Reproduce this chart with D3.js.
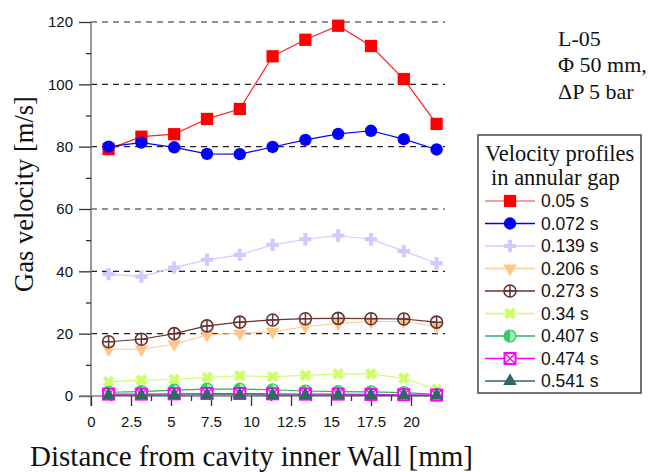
<!DOCTYPE html>
<html><head><meta charset="utf-8">
<script src="https://cdn.jsdelivr.net/npm/d3@7"></script>
<style>body{margin:0;background:#fff}svg{display:block}</style>
</head><body>
<script>
const distances = [1.1, 3.15, 5.2, 7.25, 9.3, 11.35, 13.4, 15.45, 17.5, 19.55, 21.6];
const seriesNames = ["0.05 s","0.072 s","0.139 s","0.206 s","0.273 s","0.34 s","0.407 s","0.474 s","0.541 s"];
const v005  = [79.2, 83.2, 84.0, 88.9, 92.1, 109.0, 114.3, 118.8, 112.3, 101.7, 87.3];
const v0072 = [80.0, 81.3, 79.8, 77.7, 77.6, 79.9, 82.2, 84.1, 85.1, 82.4, 79.1];
const v0139 = [39.1, 38.3, 41.2, 43.7, 45.3, 48.5, 50.3, 51.5, 50.3, 46.5, 42.6];
const v0206 = [15.0, 15.0, 16.6, 19.6, 20.1, 20.6, 22.3, 23.3, 23.9, 23.9, 22.3];
const v0273 = [17.4, 18.2, 20.0, 22.5, 23.7, 24.4, 24.8, 24.9, 24.8, 24.7, 23.7];
const v034  = [4.6, 5.1, 5.3, 6.0, 6.5, 6.2, 6.6, 7.1, 7.1, 5.7, 2.1];
const v0407 = [1.2, 1.4, 1.9, 2.2, 2.2, 2.0, 1.6, 1.4, 1.3, 1.1, 0.5];
const v0474 = [0.6, 0.6, 0.7, 0.8, 0.8, 0.7, 0.6, 0.6, 0.5, 0.4, 0.3];
const v0541 = [0.2, 0.3, 0.3, 0.4, 0.4, 0.3, 0.3, 0.3, 0.2, 0.2, 0.1];
const xTicks = [0, 2.5, 5, 7.5, 10, 12.5, 15, 17.5, 20];
const yTicks = [0, 20, 40, 60, 80, 100, 120];
const notes = ["L-05", "Φ 50 mm,", "ΔP 5 bar"];

const seriesValues = [v005, v0072, v0139, v0206, v0273, v034, v0407, v0474, v0541];
const styles = [
  {line:"#ff2020", color:"#ff0000", marker:"square"},
  {line:"#0000ff", color:"#0000ff", marker:"circle"},
  {line:"#ccccff", color:"#ccccff", marker:"cross"},
  {line:"#ffcc99", color:"#ffc58a", marker:"tridown"},
  {line:"#663333", color:"#663333", marker:"circleplus"},
  {line:"#ccff66", color:"#ccff66", marker:"x"},
  {line:"#33aa66", color:"#33cc66", marker:"half"},
  {line:"#ff00ff", color:"#ff00ff", marker:"squarex"},
  {line:"#336666", color:"#336666", marker:"triup"}
];

const W = 659, H = 472;
const svg = d3.select("body").append("svg").attr("width", W).attr("height", H);
const x = d3.scaleLinear().domain([0, 22]).range([91, 443]);
const y = d3.scaleLinear().domain([0, 120]).range([396, 22]);

// grid
svg.append("g").selectAll("line").data(yTicks.filter(d => d > 0)).join("line")
  .attr("x1", x(0)).attr("x2", 445).attr("y1", d => y(d)).attr("y2", d => y(d))
  .attr("stroke", "#222").attr("stroke-width", 1.2).attr("stroke-dasharray", "6,5");

// axes
const sans = "'Liberation Sans', Arial, sans-serif";
const serif = "'Liberation Serif', 'Times New Roman', serif";
const yMinor = d3.range(10, 120, 20);
const xMinor = d3.range(1.25, 22, 2.5);
const gy = svg.append("g").attr("transform", `translate(${x(0)},0)`)
  .call(d3.axisLeft(y).tickValues(yTicks).tickSize(12).tickPadding(6).tickFormat(d3.format("d")));
const gyMinor = svg.append("g").attr("transform", `translate(${x(0)},0)`)
  .call(d3.axisLeft(y).tickValues(yMinor).tickSize(5).tickFormat(""));
const gx = svg.append("g").attr("transform", `translate(0,${y(0)})`)
  .call(d3.axisBottom(x).tickValues(xTicks).tickSize(10).tickPadding(10).tickFormat(d => d));
const gxMinor = svg.append("g").attr("transform", `translate(0,${y(0)})`)
  .call(d3.axisBottom(x).tickValues(xMinor).tickSize(5).tickFormat(""));
[gy, gyMinor, gx, gxMinor].forEach(g => {
  g.select(".domain").attr("stroke", "#808080").attr("stroke-width", 1.6);
  g.selectAll(".tick line").attr("stroke", "#333").attr("stroke-width", 1.3);
  g.selectAll("text").attr("font-family", sans).attr("font-size", 15).attr("fill", "#111");
});
gyMinor.select(".domain").remove();
gxMinor.select(".domain").remove();
gy.select(".domain").attr("d", `M0,${y(120)}V${y(0)+10}`);
gx.select(".domain").attr("d", `M${x(0)-11},0H${x(22)}`);

// axis titles
svg.append("text").attr("x", 30).attr("y", 466).attr("font-family", serif).attr("font-size", 29)
  .attr("textLength", 443).attr("fill", "#111").text("Distance from cavity inner Wall [mm]");
svg.append("text").attr("transform", "translate(33,194) rotate(-90)").attr("text-anchor", "middle")
  .attr("font-family", serif).attr("font-size", 26.5).attr("fill", "#111").text("Gas velocity [m/s]");

// notes
svg.append("g").selectAll("text").data(notes).join("text")
  .attr("x", 558).attr("y", (d, i) => [46, 72, 99][i])
  .attr("font-family", serif).attr("font-size", 22).attr("fill", "#111").text(d => d);

function drawMarker(g, type, color) {
  const s = 6;
  if (type === "square") {
    g.append("path").attr("d", d3.symbol(d3.symbolSquare, 150)()).attr("fill", color);
  } else if (type === "circle") {
    g.append("path").attr("d", d3.symbol(d3.symbolCircle, 120)()).attr("fill", color);
  } else if (type === "cross") {
    g.append("path").attr("d", d3.symbol(d3.symbolCross, 85)()).attr("fill", color);
  } else if (type === "tridown") {
    g.append("path").attr("d", d3.symbol(d3.symbolTriangle, 80)()).attr("transform", "rotate(180)").attr("fill", color);
  } else if (type === "circleplus") {
    g.append("circle").attr("r", s).attr("fill", "none").attr("stroke", color).attr("stroke-width", 1.6);
    g.append("path").attr("d", `M${-s},0H${s}M0,${-s}V${s}`).attr("stroke", color).attr("stroke-width", 1.5);
  } else if (type === "x") {
    g.append("path").attr("d", d3.symbol(d3.symbolCross, 85)()).attr("transform", "rotate(45)").attr("fill", color);
  } else if (type === "half") {
    g.append("circle").attr("r", s).attr("fill", "#9ee6b4").attr("stroke", color).attr("stroke-width", 1.2);
    g.append("path").attr("d", `M0,${-s}A${s},${s} 0 0 0 0,${s}Z`).attr("fill", color);
  } else if (type === "squarex") {
    g.append("rect").attr("x", -5.5).attr("y", -5.5).attr("width", 11).attr("height", 11)
      .attr("fill", "#fff").attr("stroke", color).attr("stroke-width", 2);
    g.append("path").attr("d", "M-5,-5L5,5M-5,5L5,-5").attr("stroke", color).attr("stroke-width", 1.3);
  } else if (type === "triup") {
    g.append("path").attr("d", d3.symbol(d3.symbolTriangle, 80)()).attr("fill", color);
  }
}

// series
const line = d3.line().x((d, i) => x(distances[i])).y(d => y(d));
seriesValues.forEach((vals, k) => {
  const st = styles[k];
  const g = svg.append("g");
  g.append("path").datum(vals).attr("d", line).attr("fill", "none")
    .attr("stroke", st.line).attr("stroke-width", 1.2);
  vals.forEach((v, i) => {
    const mg = g.append("g").attr("transform", `translate(${x(distances[i])},${y(v)})`);
    drawMarker(mg, st.marker, st.color);
  });
});

// legend
const lg = svg.append("g");
lg.append("rect").attr("x", 478).attr("y", 135).attr("width", 163).attr("height", 258)
  .attr("fill", "#fff").attr("stroke", "#444").attr("stroke-width", 1.5);
lg.append("text").attr("x", 485).attr("y", 161).attr("font-family", serif).attr("font-size", 22.5)
  .attr("fill", "#111").text("Velocity profiles");
lg.append("text").attr("x", 491).attr("y", 185).attr("font-family", serif).attr("font-size", 22.5)
  .attr("fill", "#111").text("in annular gap");
seriesNames.forEach((name, k) => {
  const yy = 201 + k * 22.5;
  const st = styles[k];
  lg.append("line").attr("x1", 485).attr("x2", 535).attr("y1", yy).attr("y2", yy)
    .attr("stroke", st.line).attr("stroke-width", 1.5).attr("opacity", k === 0 ? 0.6 : 1);
  drawMarker(lg.append("g").attr("transform", `translate(510,${yy})`), st.marker, st.color);
  lg.append("text").attr("x", 541).attr("y", yy + 6).attr("font-family", sans).attr("font-size", 17.5)
    .attr("fill", "#111").text(name);
});
</script>
</body></html>
